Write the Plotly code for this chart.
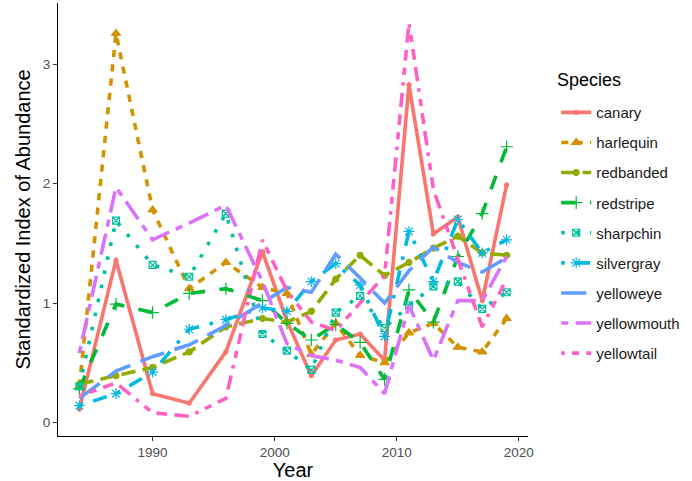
import plotly.graph_objects as go

# Survey years and standardized abundance index per species
years = [1984, 1987, 1990, 1993, 1996, 1999, 2001, 2003, 2005, 2007,
         2009, 2011, 2013, 2015, 2017, 2019]

canary      = [0.11, 1.36, 0.24, 0.16, 0.59, 1.43, 0.85, 0.39, 0.69, 0.74,
               0.52, 2.83, 1.58, 1.72, 1.02, 1.99]
harlequin   = [0.30, 3.26, 1.78, 1.12, 1.34, 1.13, 1.08, 0.57, 0.83, 0.56,
               0.50, 0.75, 0.83, 0.63, 0.59, 0.87]
redbanded   = [0.32, 0.39, 0.46, 0.59, 0.80, 0.87, 0.84, 0.93, 1.20, 1.40,
               1.23, 1.34, 1.46, 1.56, 1.42, 1.40]
redstripe   = [0.28, 0.99, 0.92, 1.08, 1.12, 1.02, 0.83, 0.69, 0.82, 0.67,
               0.36, 1.11, 0.84, 1.39, 1.75, 2.31]
sharpchin   = [0.30, 1.69, 1.32, 1.22, 1.75, 0.74, 0.60, 0.44, 0.92, 1.06,
               0.79, 0.98, 1.14, 1.18, 0.95, 1.09]
silvergray  = [0.14, 0.24, 0.42, 0.78, 0.86, 0.96, 0.93, 1.18, 1.33, 1.15,
               0.72, 1.60, 1.18, 1.70, 1.42, 1.53]
yelloweye   = [0.20, 0.43, 0.55, 0.65, 0.81, 1.00, 1.13, 1.09, 1.41, 1.21,
               1.00, 1.27, 1.47, 1.34, 1.26, 1.38]
yellowmouth = [0.58, 1.97, 1.53, 1.67, 1.82, 1.18, 0.66, 0.56, 0.52, 0.46,
               0.24, 0.98, 0.52, 1.02, 1.02, 1.39]
yellowtail  = [0.22, 0.33, 0.08, 0.05, 0.20, 1.53, 1.10, 0.84, 0.77, 1.00,
               1.23, 3.35, 1.95, 1.37, 0.80, 1.20]

species = ["canary", "harlequin", "redbanded", "redstripe", "sharpchin",
           "silvergray", "yelloweye", "yellowmouth", "yellowtail"]
values = [canary, harlequin, redbanded, redstripe, sharpchin,
          silvergray, yelloweye, yellowmouth, yellowtail]

colors = ["#F8766D", "#D39200", "#93AA00", "#00BA38", "#00C19F",
          "#00B9E3", "#619CFF", "#DB72FB", "#FF61C3"]

LW = 3.6  # line width in px; dash patterns are multiples of it


def dash(units):
    if units is None:
        return "solid"
    return ",".join(f"{u * LW:.1f}px" for u in units)


dashes = [None, (2, 2), (4, 2), (4, 4), (1, 3), (1, 3, 4, 3), (7, 3),
          (2, 2, 6, 2), (1, 2, 2, 2, 3, 2, 4, 2)]

markers = [
    dict(symbol="circle", size=4),
    dict(symbol="triangle-up", size=8),
    dict(symbol="circle", size=6),
    dict(symbol="cross-thin-open", size=9),
    dict(symbol="square-x-open", size=7),
    dict(symbol="asterisk-open", size=9),
    None, None, None,
]

FONT = "Liberation Sans, Arial, sans-serif"

fig = go.Figure()
for name, vals, col, dsh, mk in zip(species, values, colors, dashes, markers):
    if mk is None:
        mode = "lines"
        marker = None
    else:
        mode = "lines+markers"
        marker = dict(symbol=mk["symbol"], size=mk["size"], color=col,
                      line=dict(width=1.2, color=col))
    fig.add_trace(go.Scatter(
        x=years, y=vals, name=name, mode=mode,
        line=dict(color=col, width=LW, dash=dash(dsh)),
        marker=marker, legendgroup=name,
    ))

# Legend heading drawn separately so its spacing above the keys can be set
fig.add_annotation(
    text="Species", xref="paper", yref="paper",
    x=1.057, y=0.822, xanchor="left", yanchor="middle",
    showarrow=False, font=dict(size=18, color="#000000"),
)

fig.update_layout(
    width=692, height=481,
    margin=dict(l=58, r=164, t=3, b=45),
    plot_bgcolor="white", paper_bgcolor="white",
    font=dict(family=FONT, color="#000000"),
    showlegend=True,
    legend=dict(
        font=dict(size=15, color="#1A1A1A"),
        x=1.06, xanchor="left", y=0.785, yanchor="top",
        traceorder="grouped", tracegroupgap=7.6,
        itemwidth=30, bgcolor="rgba(0,0,0,0)",
    ),
    xaxis=dict(
        range=[1982.25, 2020.75],
        tickvals=[1990, 2000, 2010, 2020],
        ticks="outside", ticklen=4, tickwidth=1, tickcolor="#333333",
        tickfont=dict(size=13.5, color="#4D4D4D"),
        showline=True, linecolor="#000000", linewidth=1.3,
        showgrid=False, zeroline=False,
        title=dict(text="Year", font=dict(size=20, color="#000000"), standoff=3),
    ),
    yaxis=dict(
        range=[-0.115, 3.515],
        tickvals=[0, 1, 2, 3],
        ticks="outside", ticklen=4, tickwidth=1, tickcolor="#333333",
        tickfont=dict(size=13.5, color="#4D4D4D"),
        showline=True, linecolor="#000000", linewidth=1.3,
        showgrid=False, zeroline=False,
        title=dict(text="Standardized Index of Abundance",
                   font=dict(size=20, color="#000000"), standoff=6),
    ),
)

fig.write_html("out.html")
